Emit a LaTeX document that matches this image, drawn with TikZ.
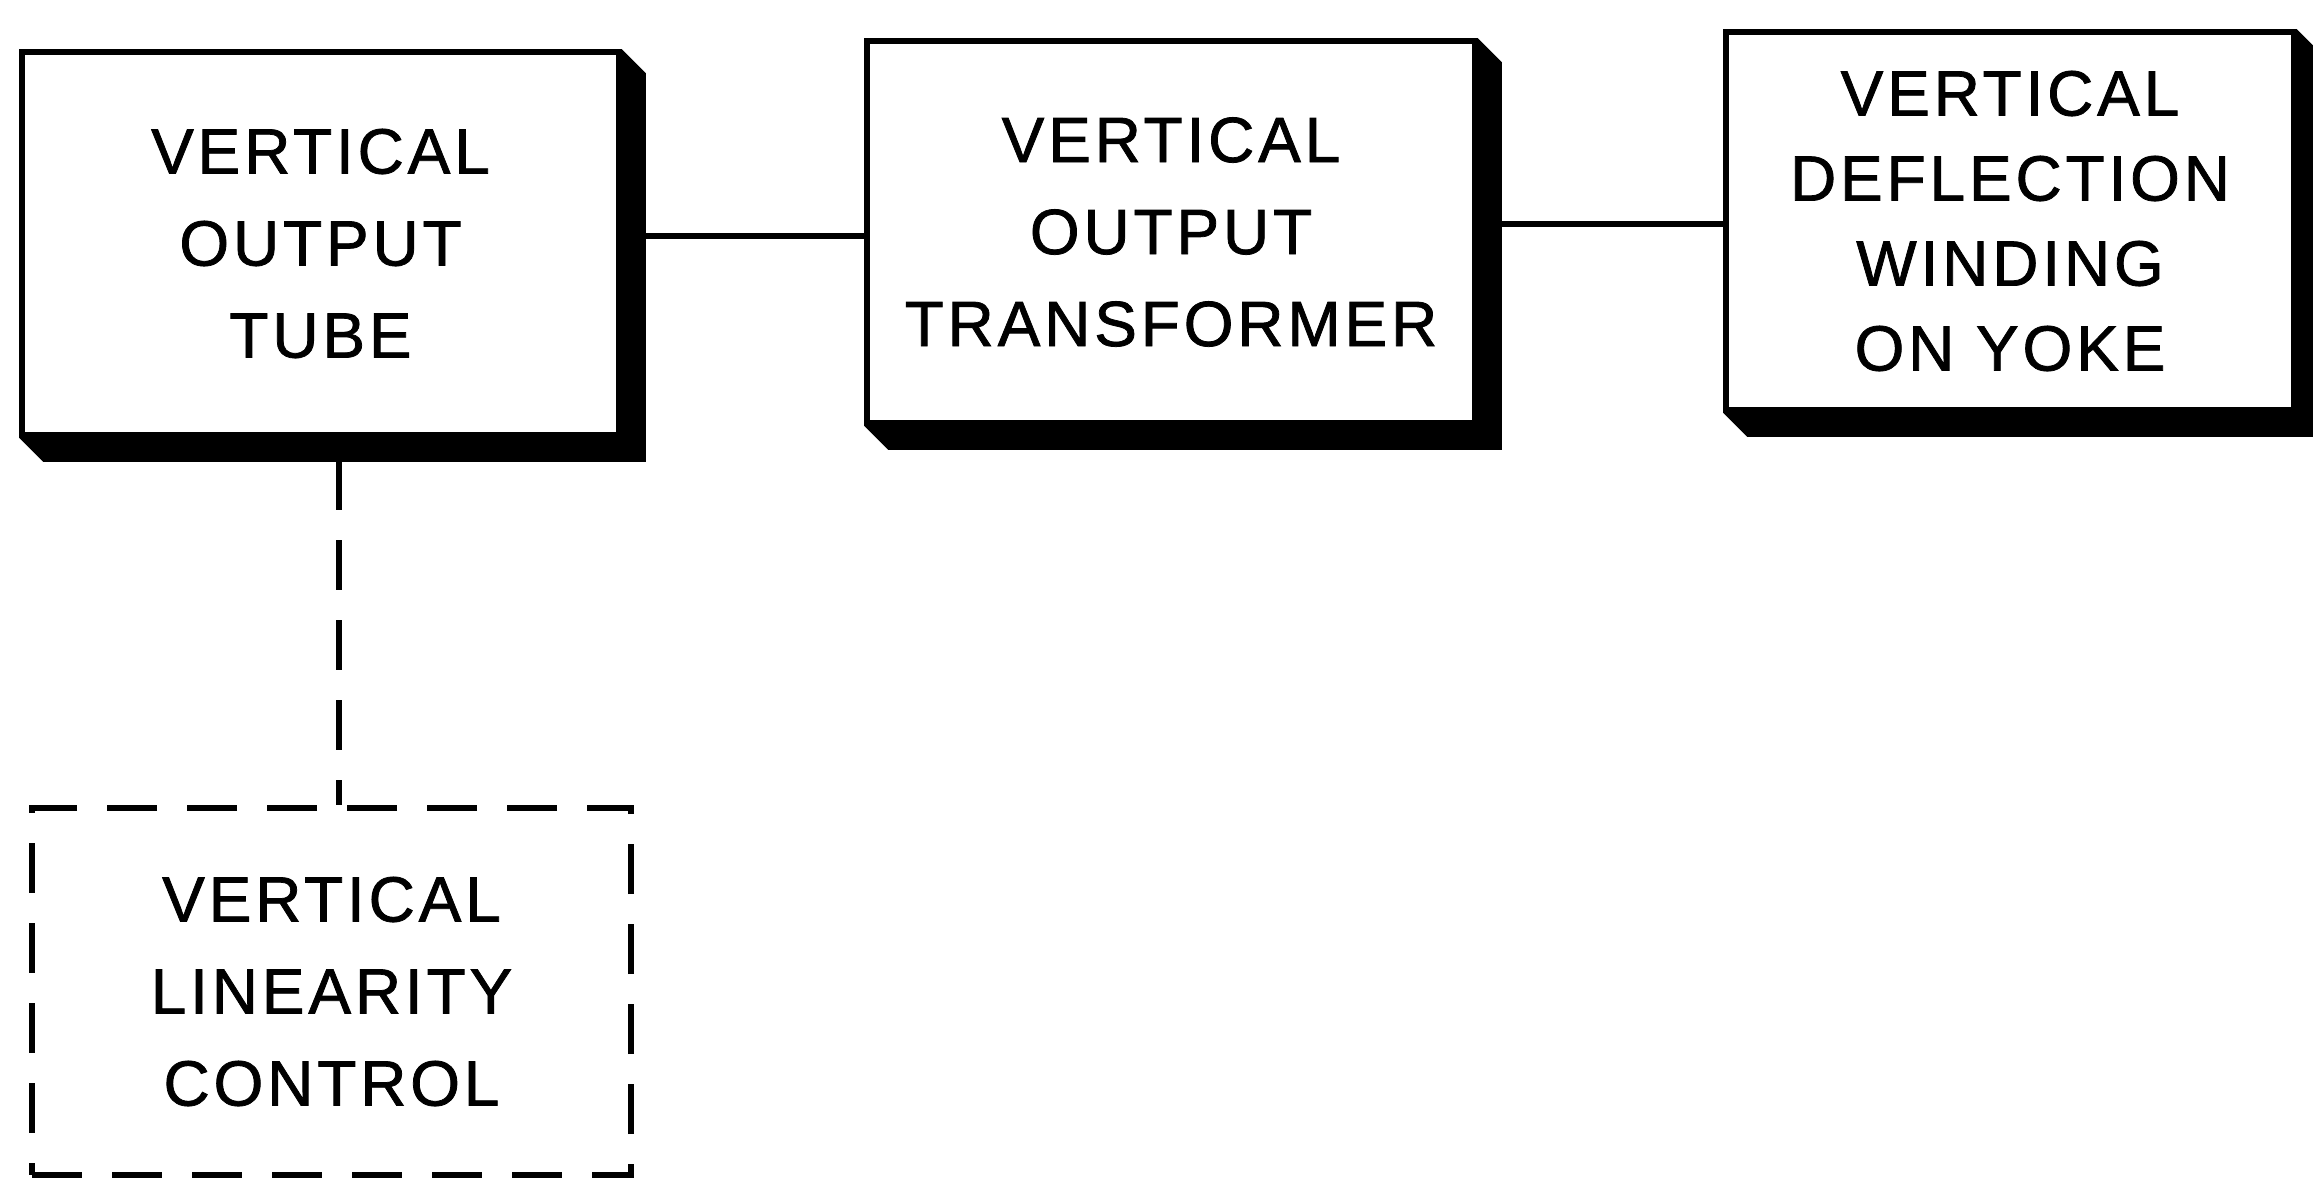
\documentclass[tikz,border=0pt]{standalone}
\usepackage{fontspec}
\setmainfont{Liberation Sans}[LetterSpace=6,FakeBold=1.2]
\begin{document}
\begin{tikzpicture}[x=0.5pt,y=-0.5pt,
  blk/.style={draw=black, line width=2.8pt, fill=white, inner sep=0pt, align=center,
    font=\fontsize{32}{46}\selectfont},
  dblk/.style={blk, fill=none, dash pattern=on 25pt off 15pt, line width=2.6pt},
  wire/.style={line width=2.6pt},
  shade/.style={fill=black}]
\useasboundingbox (0,0) rectangle (2313,1180);
% blocks
\node[blk, minimum width=298.5pt, minimum height=191.5pt] (b1) at (320.5,243.5) {VERTICAL\\OUTPUT\\TUBE};
\node[blk, minimum width=304pt, minimum height=191pt] (b2) at (1171,232) {VERTICAL\\OUTPUT\\TRANSFORMER};
\node[blk, minimum width=284pt, minimum height=189pt, font=\fontsize{32}{42.5}\selectfont] (b3) at (2010,221) {VERTICAL\\DEFLECTION\\WINDING\\ON YOKE};
\node[dblk, minimum width=299.5pt, minimum height=183.5pt] (b4) at (331.5,991.5) {VERTICAL\\LINEARITY\\CONTROL};
% shadows
\foreach \b in {b1,b2,b3}{
  \fill[shade] (\b.north east) -- ([shift={(24,24)}]\b.north east) -- ([shift={(24,24)}]\b.south east)
    -- ([shift={(24,24)}]\b.south west) -- (\b.south west) -- (\b.south east) -- cycle;
}
% connectors
\coordinate (c1) at (0,236);
\coordinate (c2) at (0,224);
\coordinate (d1) at (339,460);
\draw[wire] (b1.east |- c1) -- (b2.west |- c1);
\draw[wire] (b2.east |- c2) -- (b3.west |- c2);
\draw[wire, dash pattern=on 25pt off 15pt] (d1) -- (d1 |- b4.north);
\end{tikzpicture}
\end{document}
